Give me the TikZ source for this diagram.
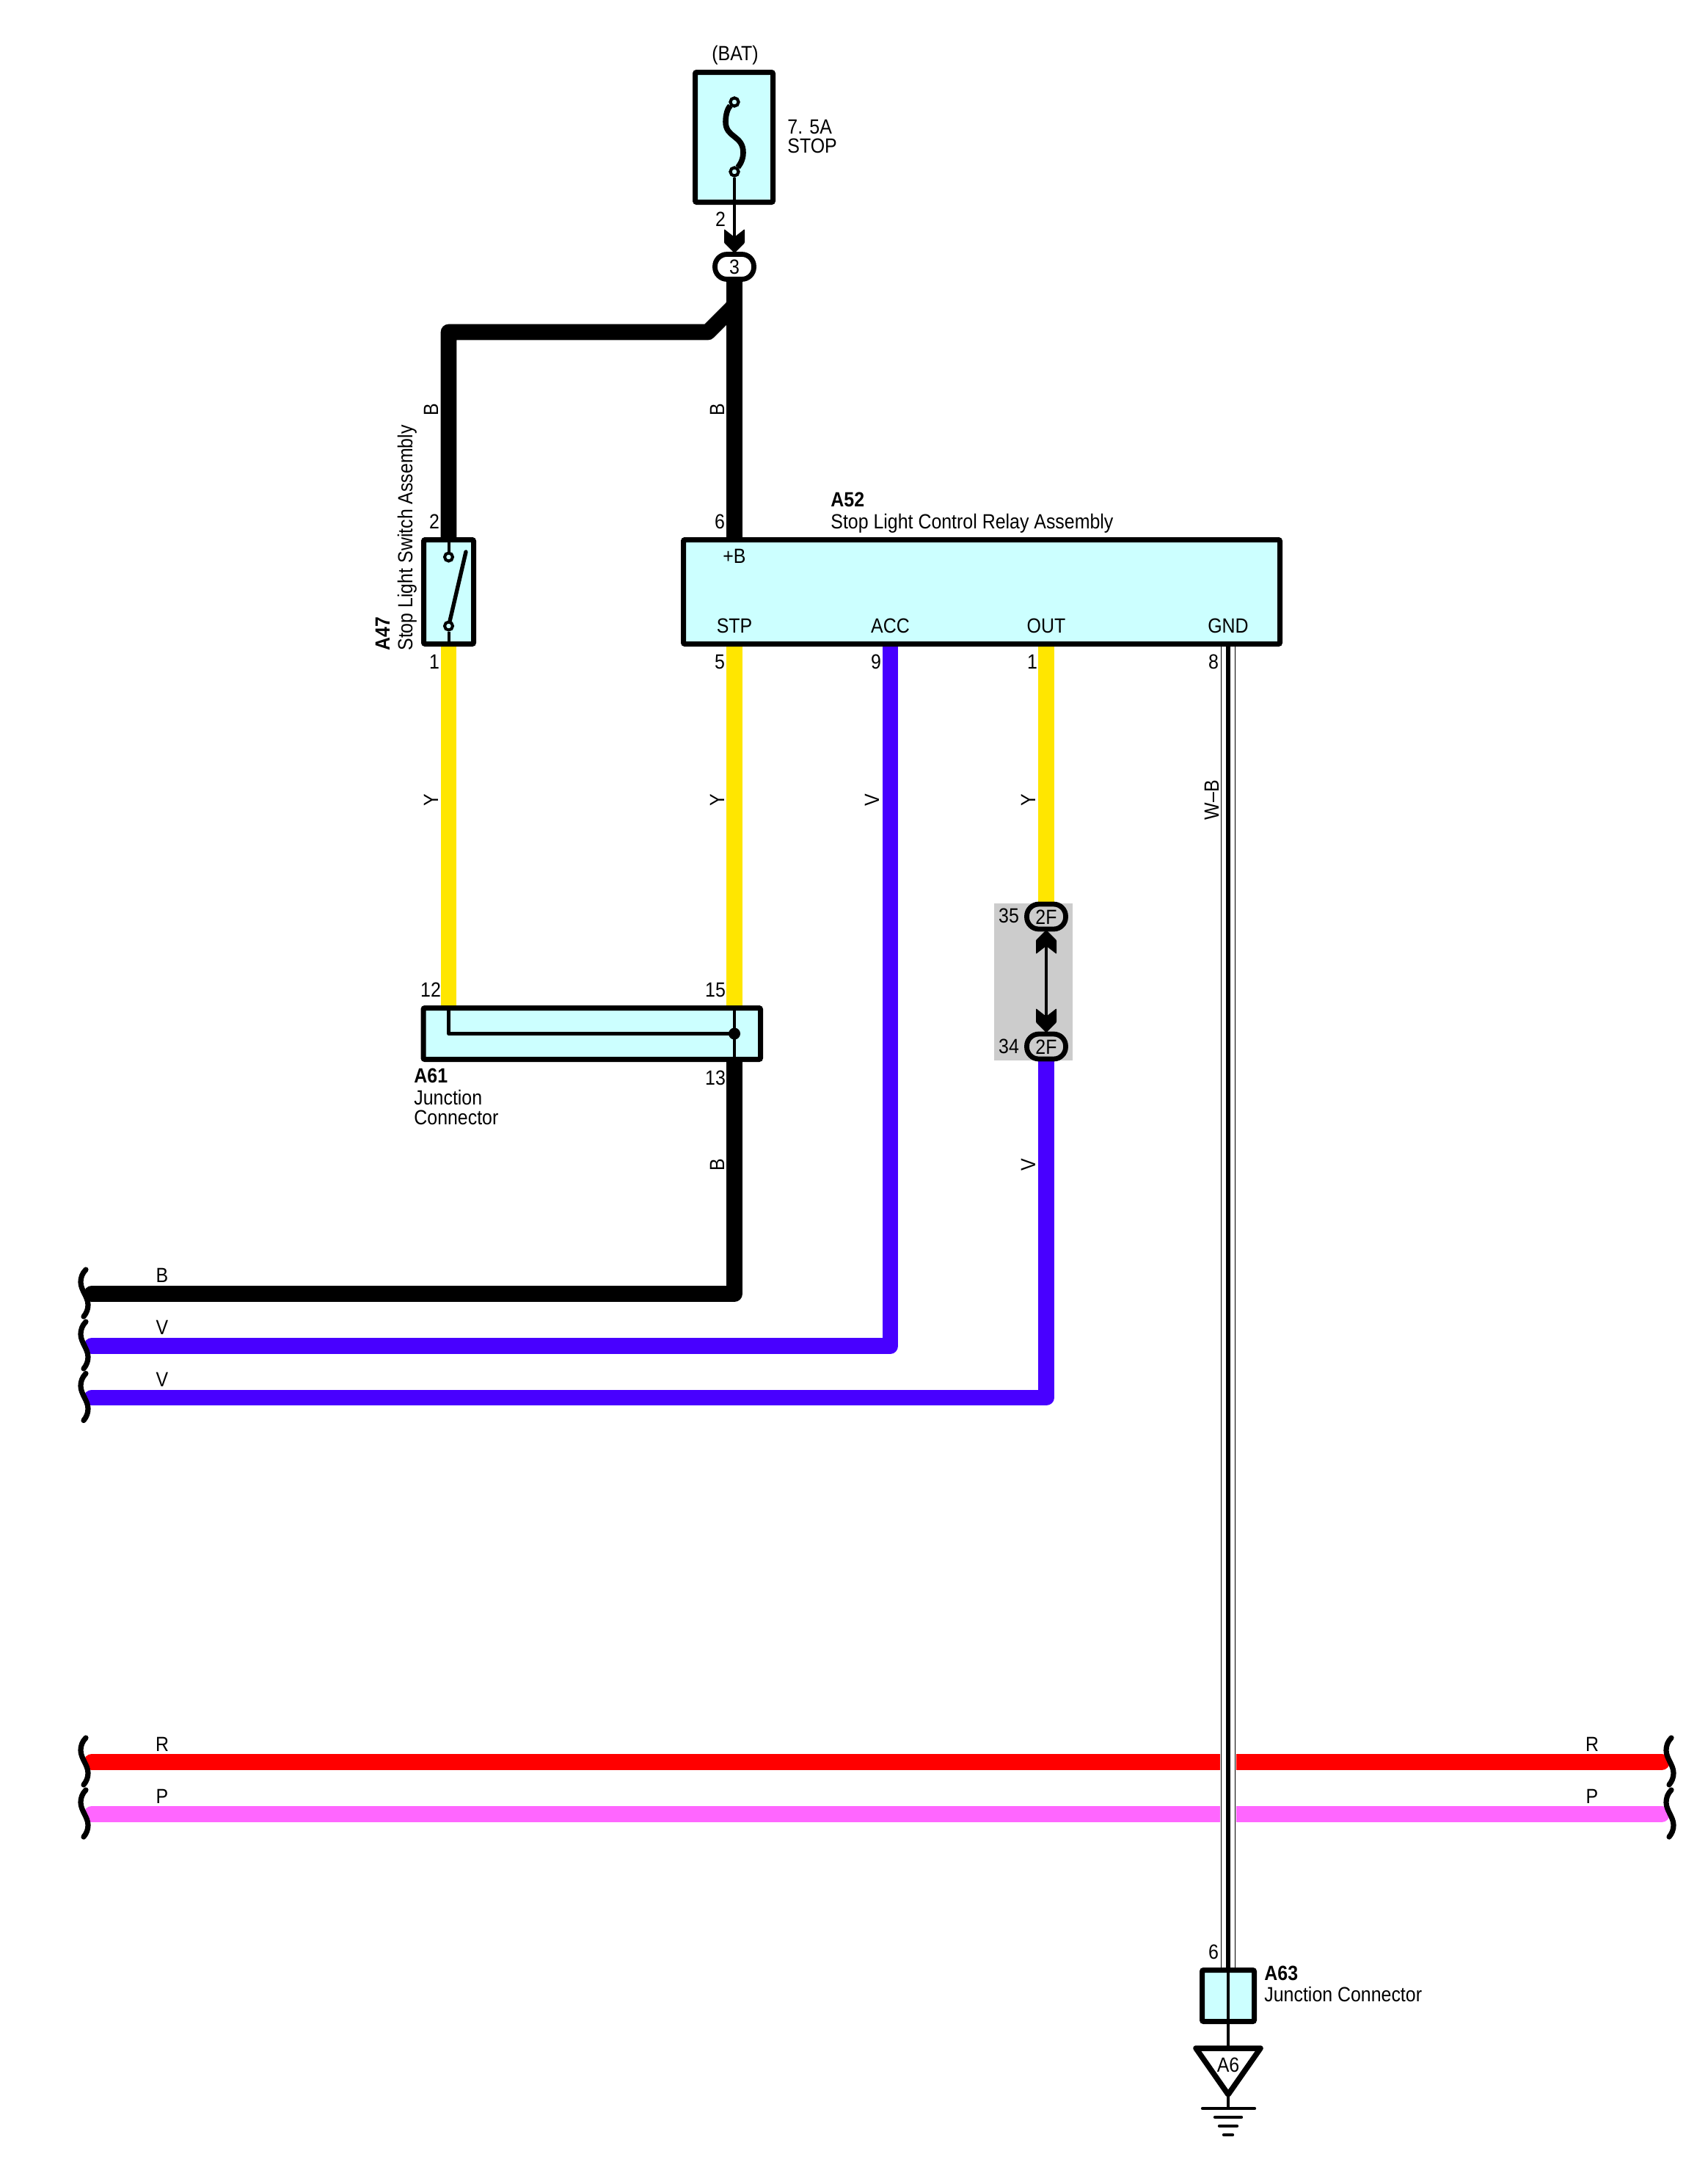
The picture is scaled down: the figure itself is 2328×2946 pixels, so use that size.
\documentclass[tikz,border=0pt]{standalone}
\usepackage{fontspec}
\setmainfont[FakeStretch=0.89]{Liberation Sans}
\definecolor{boxblue}{HTML}{CCFFFF}
\definecolor{wireY}{HTML}{FFE600}
\definecolor{wireV}{HTML}{4800FF}
\definecolor{wireR}{HTML}{FF0000}
\definecolor{wireP}{HTML}{FF66FF}
\definecolor{panel}{HTML}{CCCCCC}
\pgfdeclarelayer{wires}
\pgfsetlayers{wires,main}
\tikzset{
  lab/.style={inner sep=0pt,text height=10pt,text depth=0pt,font=\fontsize{14}{16}\selectfont},
  labl/.style={lab,anchor=west},
  vlab/.style={lab,rotate=90},
  boldl/.style={labl,font=\fontsize{14}{16}\selectfont\bfseries},
  comp/.style={draw=black,fill=boxblue,line width=3.5pt,rounded corners=1pt,inner sep=0pt},
  pill/.style={draw=black,line width=3.4pt,rounded corners=8.2pt,inner sep=0pt,minimum width=26.5pt,minimum height=17pt,lab},
  term/.style={circle,draw=black,fill=boxblue,line width=2pt,inner sep=0pt,minimum size=5.5pt},
  wire/.style={line width=10.85pt,line cap=round,line join=round},
  thin wire/.style={draw=black,line width=2pt},
  chevron/.pic={\fill[black,rounded corners=0.5pt] (-14,-16) -- (0,-5) -- (14,-16) -- (14,3) -- (0,17) -- (-14,3) -- cycle;},
  squiggle/.pic={\draw[black,line width=3.6pt,line cap=round] (2,-33) .. controls (-3,-28) and (-5,-22) .. (-5,-16) .. controls (-5,-5) and (5,4) .. (5,15) .. controls (5,21) and (3,26) .. (-1,31);},
}
\begin{document}
\begin{tikzpicture}[x=0.5pt,y=-0.5pt]
\useasboundingbox (0,0) rectangle (2328,2946);
% components
\node[comp,minimum width=53pt,minimum height=88.5pt] (fuse) at (1000.5,187) {};
\node[comp,minimum width=34pt,minimum height=71pt] (sw) at (611.5,806.5) {};
\node[comp,minimum width=406.5pt,minimum height=71pt] (relay) at (1338,806.5) {};
\node[comp,minimum width=229.75pt,minimum height=35pt] (jA) at (806.75,1408.5) {};
\node[comp,minimum width=35.5pt,minimum height=35pt] (jB) at (1674,2719.5) {};
\node[fill=panel,inner sep=0pt,minimum width=53.5pt,minimum height=107pt] (gray) at (1408.5,1338) {};
% connectors
\node[pill,fill=white] (c3) at (1001,363.5) {3};
\node[pill,fill=panel] (cT) at (1426,1249) {2F};
\node[pill,fill=panel] (cB) at (1426,1426) {2F};
% relay terminals
\node[lab] (tB) at (1001,757) {+B};
\node[lab] (tSTP) at (1001,852) {STP};
\node[lab] (tACC) at (1213.5,852) {ACC};
\node[lab] (tOUT) at (1426,852) {OUT};
\node[lab] (tGND) at (1674,852) {GND};
% fuse symbol
\node[term] (f1) at (1001,139) {};
\node[term] (f2) at (1001,234) {};
\draw[black,line width=3.8pt] (f1) .. controls (992,147) and (989,156) .. (989,166) .. controls (989,188) and (1013,184) .. (1013,208) .. controls (1013,218) and (1008,225) .. (f2);
\node[term] at (1001,139) {};
\node[term] at (1001,234) {};
% switch symbol
\node[term] (s1) at (611.5,759) {};
\node[term] (s2) at (611.5,853) {};
\coordinate (blade) at (635,752);
\draw[thin wire] (s1) -- (s1 |- sw.north);
\draw[thin wire] (s2) -- (s2 |- sw.south);
\draw[black,line width=2.7pt,line cap=round] (s2) -- (blade);
% bus ends
\coordinate (bL) at (125,1763);
\coordinate (v1L) at (125,1834);
\coordinate (v2L) at (125,1904.5);
\coordinate (rL) at (125,2401);
\coordinate (rR) at (2265,2401);
\coordinate (pL) at (125,2472);
\coordinate (pR) at (2265,2472);
\coordinate (joint) at (965,452.5);
\coordinate (mid) at (1001,416.3);
\begin{pgfonlayer}{wires}
  \draw[wire,black] (c3) -- (c3 |- relay.north);
  \draw[wire,black,line cap=butt,line join=round] (sw.north) -- (sw.north |- joint) -- (joint) -- (mid);
  \draw[wire,wireY,line cap=butt] (sw.south) -- (sw.south |- jA.north);
  \draw[wire,wireY,line cap=butt] (tSTP |- relay.south) -- (tSTP |- jA.north);
  \draw[wire,wireV] (tACC |- relay.south) |- (v1L);
  \draw[wire,wireY,line cap=butt] (tOUT |- relay.south) -- (cT);
  \draw[wire,wireV] (cB) |- (v2L);
  \draw[wire,black] (tSTP |- jA.south) |- (bL);
  \draw[wire,wireR] (rL) -- (rR);
  \draw[wire,wireP] (pL) -- (pR);
  \draw[white,line width=11pt] (tGND |- relay.south) -- (tGND |- jB.north);
  \draw[black,line width=10.3pt] (tGND |- relay.south) -- (tGND |- jB.north);
  \draw[white,line width=9.1pt] (tGND |- relay.south) -- (tGND |- jB.north);
  \draw[black,line width=3.2pt] (tGND |- relay.south) -- (tGND |- jB.north);
\end{pgfonlayer}
% inner wires
\draw[black,line width=1.8pt] (f2) -- (c3);
\pic at (1001,328) {chevron};
\draw[black,line width=2pt] (cT) -- (cB);
\pic[rotate=180] at (1426,1284) {chevron};
\pic at (1426,1390) {chevron};
\draw[black,line width=2.3pt,line join=round] (sw.north |- jA.north) |- (tSTP |- jA);
\draw[black,line width=1.6pt] (tSTP |- jA.north) -- (tSTP |- jA.south);
\node[circle,fill=black,inner sep=0pt,minimum size=8pt] (dot) at (tSTP |- jA) {};
% squiggles
\foreach \yc in {1763,1834,1904.5,2401,2472} {\pic at (115,\yc) {squiggle};}
\foreach \yc in {2401,2472} {\pic at (2276,\yc) {squiggle};}
% ground
\coordinate (triTop) at (1674,2791);
\coordinate (triL) at (1630,2791);
\coordinate (triR) at (1718,2791);
\coordinate (triB) at (1674,2854);
\draw[black,line width=1.8pt] (tGND |- jB.north) -- (triTop);
\draw[black,line width=3.75pt,line join=round] (triL) -- (triR) -- (triB) -- cycle;
\node[lab] (a6) at (1674,2813) {A6};
\coordinate (g1) at (1674,2873);
\draw[black,line width=2pt] (triB) -- (g1);
\draw[black,line width=2.2pt,line cap=round] (1639,2873) -- (1710,2873);
\draw[black,line width=2.2pt,line cap=round] (1656,2885) -- (1692,2885);
\draw[black,line width=2.2pt,line cap=round] (1662,2897) -- (1686,2897);
\draw[black,line width=2.2pt,line cap=round] (1668,2909) -- (1680,2909);
% texts
\node[lab] (bat) at (1002,72) {(BAT)};
\node[labl] (amp) at (1073,172) {7. 5A};
\node[labl] (stop) at (1073,198) {STOP};
\node[lab] (p2f) at (982,298) {2};
\node[lab] (p2s) at (592,710) {2};
\node[lab] (p6) at (981,710) {6};
\node[lab] (p1s) at (592,901) {1};
\node[lab] (p5) at (981,901) {5};
\node[lab] (p9) at (1194,901) {9};
\node[lab] (p1r) at (1407,901) {1};
\node[lab] (p8) at (1654,901) {8};
\node[lab] (p12) at (587,1348) {12};
\node[lab] (p15) at (975,1348) {15};
\node[lab] (p13) at (975,1468) {13};
\node[lab] (p35) at (1375,1247) {35};
\node[lab] (p34) at (1375,1425) {34};
\node[lab] (p6b) at (1654,2659) {6};
\node[vlab] (wB1) at (587,558) {B};
\node[vlab] (wB2) at (977,558) {B};
\node[vlab] (wY1) at (587,1090) {Y};
\node[vlab] (wY2) at (977,1090) {Y};
\node[vlab] (wV1) at (1188,1090) {V};
\node[vlab] (wY3) at (1401,1090) {Y};
\node[vlab] (wWB) at (1651,1090) {W–B};
\node[vlab] (wV2) at (1401,1587) {V};
\node[vlab] (wB3) at (977,1587) {B};
\node[lab] (hB) at (221,1737) {B};
\node[lab] (hV1) at (221,1808) {V};
\node[lab] (hV2) at (221,1879) {V};
\node[lab] (hR) at (221,2376) {R};
\node[lab] (hP) at (221,2447) {P};
\node[lab] (hR2) at (2170,2376) {R};
\node[lab] (hP2) at (2170,2447) {P};
\node[boldl,rotate=90] (nA47) at (521,887) {A47};
\node[labl,rotate=90] (tA47) at (552,887) {Stop Light Switch Assembly};
\node[boldl] (nA52) at (1132,680) {A52};
\node[labl] (tA52) at (1132,710) {Stop Light Control Relay Assembly};
\node[boldl] (nA61) at (564,1465) {A61};
\node[labl] (tA61a) at (564,1495) {Junction};
\node[labl] (tA61b) at (564,1522) {Connector};
\node[boldl] (nA63) at (1723,2688) {A63};
\node[labl] (tA63) at (1723,2717) {Junction Connector};
\end{tikzpicture}
\end{document}
